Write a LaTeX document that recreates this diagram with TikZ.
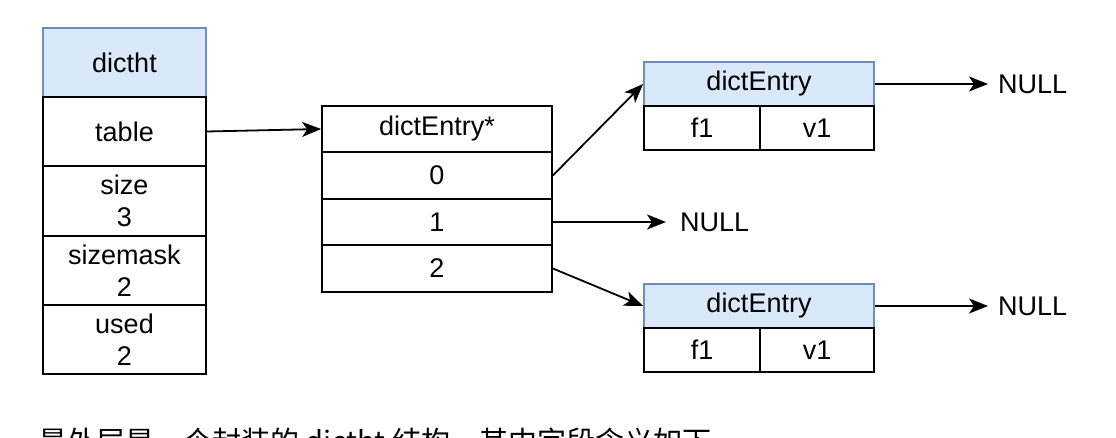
\documentclass[tikz,border=0pt]{standalone}
\usepackage{fontspec}
\setmainfont{Liberation Sans}
\newfontfamily\cjkfont{Noto Sans CJK SC}
\usetikzlibrary{arrows.meta}
\definecolor{headfill}{HTML}{DAE8FC}
\definecolor{headline}{HTML}{6C8EBF}

\begin{document}
\begin{tikzpicture}[x=1pt, y=-1pt,
    cell/.style={draw, line width=1.8pt, inner sep=0pt, align=center,
        font=\fontsize{27}{32}\selectfont},
    htcell/.style={cell, minimum width=163pt, minimum height=69pt},
    slotcell/.style={cell, minimum width=230pt, minimum height=46.5pt},
    headcell/.style={cell, draw=headline, fill=headfill},
    nulltext/.style={inner sep=0pt, font=\fontsize{27}{32}\selectfont},
    ptr/.style={line width=1.8pt, -{Stealth[length=19pt, width=15pt, inset=5pt]}}]

    % Picture area
    \clip (0,0) rectangle (1116,438);

    % The dictht structure
    \node[htcell, headcell] (ht) at (124.5,62.5) {dictht};
    \node[htcell] (table) at (124.5,131.5) {table};
    \node[htcell] (size) at (124.5,201) {size\\3};
    \node[htcell] (mask) at (124.5,270.5) {sizemask\\2};
    \node[htcell] (used) at (124.5,339.5) {used\\2};

    % The dictEntry* array and its slots
    \node[slotcell] (arr) at (437,129) {dictEntry*};
    \foreach \i/\y in {0/175.5,1/222,2/268.5}
        \node[slotcell] (slot\i) at (437,\y) {\i};

    % The two dictEntry nodes
    \foreach \k/\y in {1/84,2/306} {
        \node[cell, headcell, minimum width=230pt, minimum height=44pt] (ent\k) at (759,\y) {dictEntry};
        \node[cell, minimum width=116pt, minimum height=44pt] (key\k) at (702,\y+44) {f1};
        \node[cell, minimum width=114pt, minimum height=44pt] (val\k) at (817,\y+44) {v1};
    }

    % NULL ends
    \node[nulltext, anchor=west] (null1) at (998,84) {NULL};
    \node[nulltext, anchor=west] (null0) at (680,222) {NULL};
    \node[nulltext, anchor=west] (null2) at (998,306) {NULL};

    % Pointers
    \draw[ptr] (table.east) -- (arr.west);
    \draw[ptr] (slot0.east) -- (ent1.west);
    \draw[ptr, shorten >=14pt] (slot1) -- (null0);
    \draw[ptr] (slot2.east) -- (ent2.west);
    \draw[ptr, shorten >=10pt] (ent1) -- (null1);
    \draw[ptr, shorten >=10pt] (ent2) -- (null2);

    % Caption line, cut off by the lower edge
    \node[anchor=base west, inner sep=0pt, font=\cjkfont\fontsize{29}{34}\selectfont] (note) at (38,452)
        {最外层是一个封装的 dictht 结构，其中字段含义如下};
\end{tikzpicture}
\end{document}
